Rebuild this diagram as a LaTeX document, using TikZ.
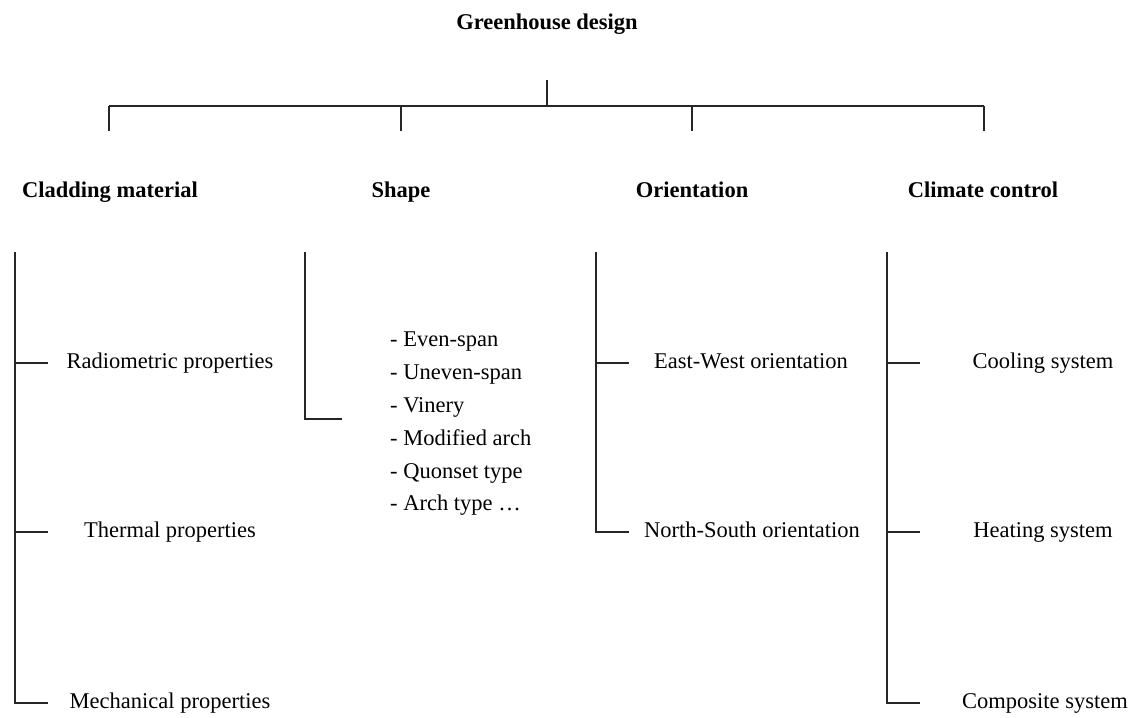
\documentclass[tikz,border=0pt]{standalone}
\usepackage{fontspec}
\setmainfont{Liberation Serif}
\begin{document}
\begin{tikzpicture}[x=1pt,y=-1pt,
  ln/.style={line width=1.4pt,black!85},
  cat/.style={font=\fontsize{22.5}{27}\selectfont\bfseries,inner sep=0pt,anchor=center,text height=15.5pt,text depth=4.5pt},
  item/.style={font=\fontsize{22.5}{27}\selectfont,inner sep=0pt,anchor=center,text height=15.5pt,text depth=4.5pt},
  lst/.style={font=\fontsize{22.5}{32.8}\selectfont,inner sep=0pt,align=left,anchor=north west}]
\useasboundingbox (0,0) rectangle (1137,717);
% title
\node[cat] (title) at (547,24) {Greenhouse design};
\coordinate (ttop) at (547,80);
\coordinate (tbar) at (547,106);
\coordinate (b1) at (109,106);
\coordinate (b2) at (401,106);
\coordinate (b3) at (692,106);
\coordinate (b4) at (984,106);
\coordinate (d1) at (109,131);
\coordinate (d2) at (401,131);
\coordinate (d3) at (692,131);
\coordinate (d4) at (984,131);
\draw[ln] (ttop) -- (tbar);
\draw[ln] (b1) -- (b4);
\draw[ln] (b1) -- (d1);
\draw[ln] (b2) -- (d2);
\draw[ln] (b3) -- (d3);
\draw[ln] (b4) -- (d4);
% categories
\node[cat] (c1) at (110,192) {Cladding material};
\node[cat] (c2) at (401,192) {Shape};
\node[cat] (c3) at (692,192) {Orientation};
\node[cat] (c4) at (983,192) {Climate control};
% cladding
\coordinate (v1) at (15,252);
\coordinate (v1a) at (15,363);
\coordinate (v1b) at (15,532);
\coordinate (v1c) at (15,703);
\coordinate (t1a) at (48,363);
\coordinate (t1b) at (48,532);
\coordinate (t1c) at (48,703);
\draw[ln] (v1) -- (v1c) -- (t1c);
\draw[ln] (v1a) -- (t1a);
\draw[ln] (v1b) -- (t1b);
\node[item] (r1) at (170,363) {Radiometric properties};
\node[item] (r2) at (170,532) {Thermal properties};
\node[item] (r3) at (170,703) {Mechanical properties};
% shape
\coordinate (v2) at (305,252);
\coordinate (v2b) at (305,419);
\coordinate (t2) at (342,419);
\draw[ln] (v2) -- (v2b) -- (t2);
\node[lst] (s1) at (390,332) {- Even-span\\- Uneven-span\\- Vinery\\- Modified arch\\- Quonset type\\- Arch type \ldots};
% orientation
\coordinate (v3) at (596,252);
\coordinate (v3a) at (596,363);
\coordinate (v3b) at (596,532);
\coordinate (t3a) at (629,363);
\coordinate (t3b) at (629,532);
\draw[ln] (v3) -- (v3b) -- (t3b);
\draw[ln] (v3a) -- (t3a);
\node[item] (o1) at (751,363) {East-West orientation};
\node[item] (o2) at (752,532) {North-South orientation};
% climate
\coordinate (v4) at (887,252);
\coordinate (v4a) at (887,363);
\coordinate (v4b) at (887,532);
\coordinate (v4c) at (887,703);
\coordinate (t4a) at (920,363);
\coordinate (t4b) at (920,532);
\coordinate (t4c) at (920,703);
\draw[ln] (v4) -- (v4c) -- (t4c);
\draw[ln] (v4a) -- (t4a);
\draw[ln] (v4b) -- (t4b);
\node[item] (k1) at (1043,363) {Cooling system};
\node[item] (k2) at (1043,532) {Heating system};
\node[item] (k3) at (1045,703) {Composite system};
\end{tikzpicture}
\end{document}
